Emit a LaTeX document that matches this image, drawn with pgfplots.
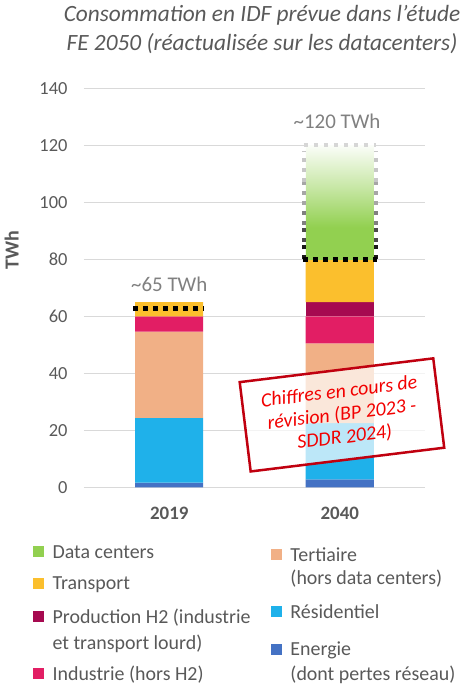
\documentclass[border=0pt]{standalone}
\usepackage{fontspec}
\setmainfont{Carlito}
\usepackage{pgfplots}
\pgfplotsset{compat=1.18}
\definecolor{cDC}{HTML}{92D050}
\definecolor{cTr}{HTML}{FBBF2D}
\definecolor{cH2}{HTML}{A60A50}
\definecolor{cInd}{HTML}{E21E64}
\definecolor{cTer}{HTML}{F1B086}
\definecolor{cRes}{HTML}{1FB1EA}
\definecolor{cEn}{HTML}{4472C4}
\definecolor{cTxt}{HTML}{595959}
\definecolor{cAnn}{HTML}{808080}
\definecolor{cGrid}{HTML}{D9D9D9}
\definecolor{cBox}{HTML}{C0000F}
\definecolor{cRed}{HTML}{F20000}
\pgfdeclareverticalshading{dcshade}{100bp}{color(0bp)=(cDC); color(25bp)=(cDC); color(39bp)=(cDC); color(57bp)=(cDC!50!white); color(75bp)=(cDC!4!white); color(100bp)=(cDC!4!white)}
\newcommand{\sqleg}[1]{\addlegendimage{legend image code/.code={\fill[#1] (0bp,1.5bp) rectangle (10bp,11.5bp);}}}
\newcommand{\emleg}{\addlegendimage{empty legend}}
\newcommand{\st}[1]{\rule[-7bp]{0pt}{#1bp}}
\pgfplotsset{dotl/.style={/pgfplots/stack plots=false, sharp plot, no marks, line width=4.5bp, dash pattern=on 4.5bp off 5.5bp, forget plot},
  legbase/.style={legend columns=1, legend style={anchor=north west, draw=none, fill=none, inner sep=0pt,
    font=\fontsize{20}{24.5}\selectfont, text=cTxt, cells={anchor=base west, inner sep=0pt}, column sep=7bp, row sep=0pt}},
  frame/.style={at={(0,0)}, anchor=south west, scale only axis, width=341bp, height=399bp,
    xmin=-0.5, xmax=1.5, ymin=0, ymax=140, clip=false}}
\begin{document}
\begin{tikzpicture}
\useasboundingbox (-84bp,-212.7bp) rectangle (392bp,487.3bp);
\node[font=\fontsize{23.4}{29}\selectfont\itshape, text=cTxt, align=center] at (178bp,457.5bp)
  {Consommation en IDF prévue dans l’étude\\FE 2050 (réactualisée sur les datacenters)};
\begin{axis}[
  frame,
  ybar stacked, bar width=68bp, reverse stacked plots=false,
  xtick={0,1}, xticklabels={2019,2040},
  ytick={0,20,...,140},
  axis line style={draw=none},
  major tick length=0pt,
  ymajorgrids, grid style={cGrid, line width=1.3bp},
  /pgf/number format/assume math mode=true,
  yticklabel style={font=\fontsize{18.5}{20}\selectfont, text=cTxt, xshift=-13bp},
  xticklabel style={font=\fontsize{19}{22}\selectfont\bfseries, text=cTxt, yshift=-16bp},
  ylabel={TWh},
  ylabel style={font=\fontsize{20}{22}\selectfont\bfseries, text=cTxt, at={(axis description cs:-0.212,0.595)}, anchor=center, rotate=0},
  legbase,
  legend style={at={(axis description cs:-0.1496,-0.1283)}},
]
\addplot[fill=cEn, draw=none, forget plot] coordinates {(0,1.6) (1,2.8)};
\addplot[fill=cRes, draw=none, forget plot] coordinates {(0,22.8) (1,19.7)};
\addplot[fill=cTer, draw=none, forget plot] coordinates {(0,30.2) (1,28.0)};
\addplot[fill=cInd, draw=none, forget plot] coordinates {(0,5.4) (1,9.5)};
\addplot[fill=cH2, draw=none, forget plot] coordinates {(0,0) (1,5.0)};
\addplot[fill=cTr, draw=none, forget plot] coordinates {(0,5.0) (1,15.0)};
\addplot[dotl, black] coordinates {(-0.21,62.8) (0.205,62.8)};
\node[font=\fontsize{21}{24}\selectfont, text=cAnn] at (axis cs:0,71.3) {\textasciitilde 65 TWh};
\node[font=\fontsize{21}{24}\selectfont, text=cAnn] at (axis cs:0.984,128.3) {\textasciitilde 120 TWh};
\node[draw=cBox, line width=2.5bp, fill=white, fill opacity=0.7, text opacity=1, rotate=7,
  minimum width=195bp, minimum height=90bp, inner sep=2bp, align=center, text=cRed,
  font=\fontsize{20}{23}\selectfont\itshape] at (axis cs:1.013,25.4)
  {Chiffres en cours de\\révision (BP 2023 -\\SDDR 2024)};
\sqleg{cDC}\addlegendentry{\st{24.5}Data centers}
\sqleg{cTr}\addlegendentry{\st{33}Transport}
\sqleg{cH2}\addlegendentry{\st{35}Production H2 (industrie}
\emleg\addlegendentry{\st{28}et transport lourd)}
\sqleg{cInd}\addlegendentry{\st{32}Industrie (hors H2)}
\end{axis}
\begin{axis}[
  frame, hide axis,
  ybar stacked, bar width=68bp, reverse stacked plots=false,
  legbase,
  legend style={at={(axis description cs:0.548,-0.1358)}},
]
% Data centers (2040) stacked on the 80 TWh of the other uses
\addplot[draw=none, fill=none, forget plot] coordinates {(1,80)};
\addplot[shading=dcshade, draw=none, forget plot] coordinates {(1,40)};
\addplot[dotl, black!16, line width=4bp] coordinates {(0.79,120) (1.213,120)};
\addplot[dotl, black!90, line width=4bp] coordinates {(0.79,80) (0.79,86)};
\addplot[dotl, black!90, line width=4bp] coordinates {(1.213,80) (1.213,86)};
\addplot[dotl, black!70, line width=4bp] coordinates {(0.79,86) (0.79,92)};
\addplot[dotl, black!70, line width=4bp] coordinates {(1.213,86) (1.213,92)};
\addplot[dotl, black!50, line width=4bp] coordinates {(0.79,92) (0.79,99)};
\addplot[dotl, black!50, line width=4bp] coordinates {(1.213,92) (1.213,99)};
\addplot[dotl, black!35, line width=4bp] coordinates {(0.79,99) (0.79,107)};
\addplot[dotl, black!35, line width=4bp] coordinates {(1.213,99) (1.213,107)};
\addplot[dotl, black!22, line width=4bp] coordinates {(0.79,107) (0.79,118)};
\addplot[dotl, black!22, line width=4bp] coordinates {(1.213,107) (1.213,118)};
\addplot[dotl, black] coordinates {(0.785,80) (1.22,80)};
\sqleg{cTer}\addlegendentry{\st{24.5}Tertiaire}
\emleg\addlegendentry{\st{25}(hors data centers)}
\sqleg{cRes}\addlegendentry{\st{35}Résidentiel}
\sqleg{cEn}\addlegendentry{\st{39}Energie}
\emleg\addlegendentry{\st{26}(dont pertes réseau)}
\end{axis}
\end{tikzpicture}
\end{document}
